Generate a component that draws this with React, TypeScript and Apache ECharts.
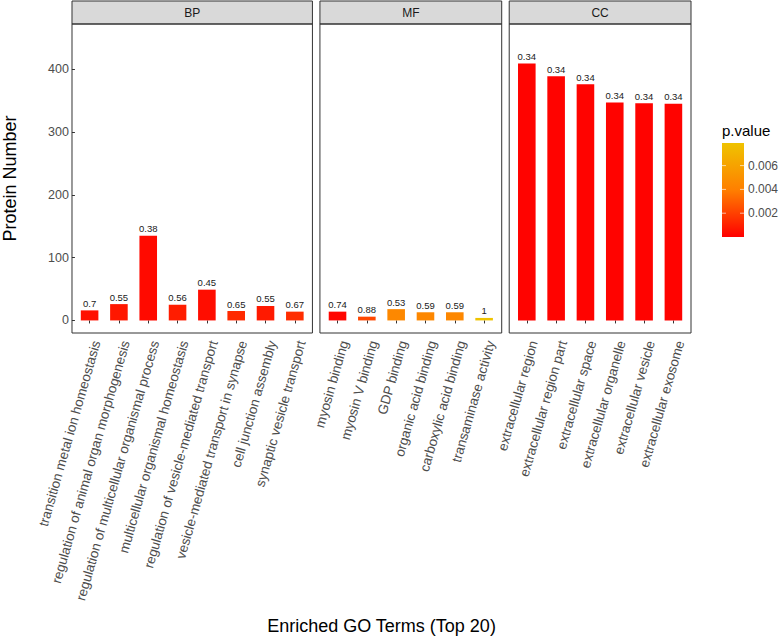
import React, { useEffect, useRef } from "react";
import * as echarts from "echarts";

// ---- data ----
const PANELS = ["BP", "MF", "CC"];

const BP_TERMS = [
  "transition metal ion homeostasis",
  "regulation of animal organ morphogenesis",
  "regulation of multicellular organismal process",
  "multicellular organismal homeostasis",
  "regulation of vesicle-mediated transport",
  "vesicle-mediated transport in synapse",
  "cell junction assembly",
  "synaptic vesicle transport",
];
const BP_COUNTS = [16, 26, 135, 25, 49, 15, 23, 14];
const BP_LABELS = ["0.7", "0.55", "0.38", "0.56", "0.45", "0.65", "0.55", "0.67"];
const BP_PVALUES = [0.0005, 0.0007, 0.0003, 0.0009, 0.0004, 0.0013, 0.0008, 0.0014];

const MF_TERMS = [
  "myosin binding",
  "myosin V binding",
  "GDP binding",
  "organic acid binding",
  "carboxylic acid binding",
  "transaminase activity",
];
const MF_COUNTS = [14, 6, 18, 13, 13, 4];
const MF_LABELS = ["0.74", "0.88", "0.53", "0.59", "0.59", "1"];
const MF_PVALUES = [0.0002, 0.0022, 0.0045, 0.0044, 0.0044, 0.0079];

const CC_TERMS = [
  "extracellular region",
  "extracellular region part",
  "extracellular space",
  "extracellular organelle",
  "extracellular vesicle",
  "extracellular exosome",
];
const CC_COUNTS = [409, 389, 376, 347, 346, 345];
const CC_LABELS = ["0.34", "0.34", "0.34", "0.34", "0.34", "0.34"];
const CC_PVALUES = [0.0001, 0.0001, 0.0001, 0.0001, 0.0001, 0.0001];

const Y_TICKS = [0, 100, 200, 300, 400];
const P_TICKS = [0.002, 0.004, 0.006];
const P_MIN = 0;
const P_MAX = 0.0079;
const P_COLORS = ["#FF0000", "#FF7F00", "#EFC300"];

const FONT = "'Liberation Sans', Arial, Helvetica, sans-serif";

export default function App() {
  const ref = useRef<HTMLDivElement>(null);

  useEffect(() => {
    if (!ref.current) return;
    const chart = echarts.init(ref.current, null, { renderer: "svg" });

    const terms = [BP_TERMS, MF_TERMS, CC_TERMS];
    const counts = [BP_COUNTS, MF_COUNTS, CC_COUNTS];
    const labels = [BP_LABELS, MF_LABELS, CC_LABELS];
    const pvals = [BP_PVALUES, MF_PVALUES, CC_PVALUES];

    // layout
    const plotLeft = 72;
    const plotRight = 691;
    const gap = 7.5;
    const top = 24;
    const bottom = 333;
    const units = terms.map((t) => t.length + 0.2);
    const totalUnits = units.reduce((a, b) => a + b, 0);
    const unitPx = (plotRight - plotLeft - gap * (terms.length - 1)) / totalUnits;
    const panels: { x0: number; w: number }[] = [];
    let cx = plotLeft;
    units.forEach((u) => {
      panels.push({ x0: cx, w: u * unitPx });
      cx += u * unitPx + gap;
    });

    const grid = panels.map((p) => ({
      left: p.x0 + 0.1 * unitPx,
      top,
      width: p.w - 0.2 * unitPx,
      height: bottom - top,
    }));

    const xAxis = terms.map((t, i) => ({
      gridIndex: i,
      type: "category",
      data: t,
      boundaryGap: true,
      axisLine: { show: false },
      axisTick: { show: true, length: 3, alignWithLabel: true, lineStyle: { color: "#333" } },
      axisLabel: {
        interval: 0,
        rotate: 74,
        fontSize: 13.5,
        color: "#4d4d4d",
        fontFamily: FONT,
        align: "right",
        verticalAlign: "top",
        margin: 6,
      },
      splitLine: { show: false },
    }));

    const yAxis = terms.map((_, i) => ({
      gridIndex: i,
      type: "value",
      min: -20,
      max: 472,
      axisLine: { show: false },
      splitLine: { show: false },
      axisTick: {
        show: i === 0,
        length: 3,
        customValues: Y_TICKS,
        lineStyle: { color: "#333" },
      },
      axisLabel: {
        show: i === 0,
        customValues: Y_TICKS,
        fontSize: 12.5,
        color: "#4d4d4d",
        fontFamily: FONT,
        margin: 6,
      },
    }));

    const series = terms.map((t, i) => ({
      type: "bar",
      xAxisIndex: i,
      yAxisIndex: i,
      barWidth: "60%",
      data: t.map((term, j) => ({ value: [term, counts[i][j], pvals[i][j]] })),
      label: {
        show: true,
        position: "top",
        distance: 2,
        fontSize: 9.5,
        color: "#1a1a1a",
        fontFamily: FONT,
        formatter: (p: any) => labels[i][p.dataIndex],
      },
    }));

    const graphic: any[] = [];
    panels.forEach((p, i) => {
      graphic.push({
        type: "rect",
        shape: { x: p.x0, y: 1, width: p.w, height: top - 1 },
        style: { fill: "#D9D9D9", stroke: "#333", lineWidth: 1 },
        z: 10,
      });
      graphic.push({
        type: "text",
        x: p.x0 + p.w / 2,
        y: (1 + top) / 2,
        style: {
          text: PANELS[i],
          fontSize: 12,
          fill: "#1a1a1a",
          fontFamily: FONT,
          align: "center",
          verticalAlign: "middle",
        },
        z: 11,
      });
      graphic.push({
        type: "rect",
        shape: { x: p.x0, y: top, width: p.w, height: bottom - top },
        style: { fill: "none", stroke: "#333", lineWidth: 1 },
        z: 10,
      });
    });

    // axis titles
    graphic.push({
      type: "text",
      x: 10,
      y: (top + bottom) / 2,
      rotation: Math.PI / 2,
      style: {
        text: "Protein Number",
        fontSize: 18,
        fill: "#000",
        fontFamily: FONT,
        align: "center",
        verticalAlign: "middle",
      },
    });
    graphic.push({
      type: "text",
      x: (plotLeft + plotRight) / 2,
      y: 626,
      style: {
        text: "Enriched GO Terms (Top 20)",
        fontSize: 18,
        fill: "#000",
        fontFamily: FONT,
        align: "center",
        verticalAlign: "middle",
      },
    });

    // colour bar legend
    const barX = 722;
    const barW = 22;
    const barTop = 143;
    const barBottom = 237;
    const yOfP = (p: number) => barBottom - ((p - P_MIN) / (P_MAX - P_MIN)) * (barBottom - barTop);
    graphic.push({
      type: "text",
      x: barX,
      y: 130,
      style: {
        text: "p.value",
        fontSize: 15,
        fill: "#000",
        fontFamily: FONT,
        align: "left",
        verticalAlign: "middle",
      },
    });
    graphic.push({
      type: "rect",
      shape: { x: barX, y: barTop, width: barW, height: barBottom - barTop },
      style: {
        fill: new echarts.graphic.LinearGradient(0, 1, 0, 0, P_COLORS.map((c, k) => ({
          offset: k / (P_COLORS.length - 1),
          color: c,
        }))),
      },
    });
    P_TICKS.forEach((p) => {
      const y = yOfP(p);
      graphic.push({
        type: "line",
        shape: { x1: barX, y1: y, x2: barX + 4, y2: y },
        style: { stroke: "#fff", lineWidth: 0.8, opacity: 0.8 },
        z: 5,
      });
      graphic.push({
        type: "line",
        shape: { x1: barX + barW - 4, y1: y, x2: barX + barW, y2: y },
        style: { stroke: "#fff", lineWidth: 0.8, opacity: 0.8 },
        z: 5,
      });
      graphic.push({
        type: "text",
        x: barX + barW + 4,
        y,
        style: {
          text: p.toFixed(3),
          fontSize: 12,
          fill: "#4d4d4d",
          fontFamily: FONT,
          align: "left",
          verticalAlign: "middle",
        },
      });
    });

    chart.setOption({
      animation: false,
      backgroundColor: "#fff",
      grid,
      xAxis,
      yAxis,
      series,
      visualMap: {
        type: "continuous",
        show: false,
        min: P_MIN,
        max: P_MAX,
        dimension: 2,
        seriesIndex: [0, 1, 2],
        inRange: { color: P_COLORS },
      },
      graphic,
    });

    return () => chart.dispose();
  }, []);

  return (
    <div
      ref={ref}
      style={{ position: "absolute", left: 0, top: 0, width: 779, height: 638 }}
    />
  );
}
